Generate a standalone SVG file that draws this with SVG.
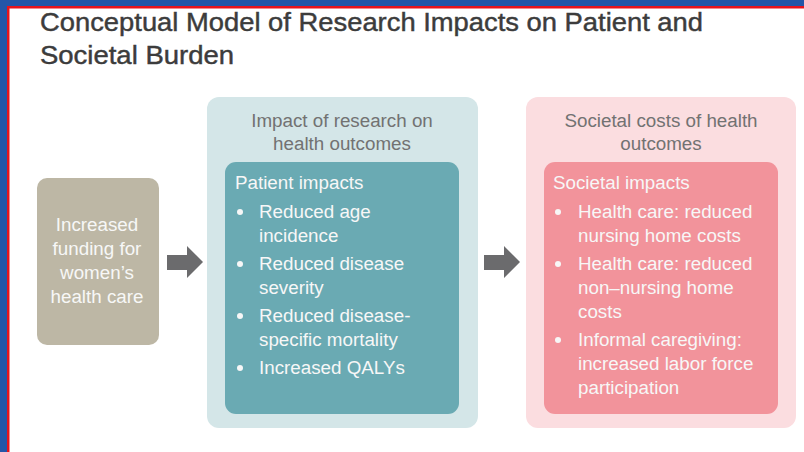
<svg xmlns="http://www.w3.org/2000/svg" width="804" height="452" viewBox="0 0 804 452">
  <style>
    text { font-family: "Liberation Sans", Arial, sans-serif; }
    .title { font-size: 26.5px; fill: #3c3c3c; stroke: #3c3c3c; stroke-width: 0.45; }
    .hdr { font-size: 18.8px; fill: #727272; text-anchor: middle; }
    .in { font-size: 18.8px; fill: #f7f7f7; }
    .mid { text-anchor: middle; }
    .bul { fill: #f7f7f7; }
    .arrow { fill: #6b6b6d; }
  </style>
  <rect x="0" y="0" width="804" height="452" fill="#ffffff"/>
  <g id="frame">
    <rect x="0" y="0" width="804" height="6" fill="#2456a8"/>
    <rect x="0" y="0" width="7" height="452" fill="#2456a8"/>
    <rect x="7" y="6" width="797" height="2.5" fill="#e8141c"/>
    <rect x="7" y="6" width="2.5" height="446" fill="#e8141c"/>
  </g>
  <g id="title">
    <text class="title" x="40" y="31" textLength="663" lengthAdjust="spacingAndGlyphs">Conceptual Model of Research Impacts on Patient and</text>
    <text class="title" x="40" y="64" textLength="194" lengthAdjust="spacingAndGlyphs">Societal Burden</text>
  </g>
  <g id="funding">
    <rect x="37" y="178" width="122" height="167" rx="10" fill="#bdb7a5"/>
    <text class="in mid" x="97" y="231">Increased</text>
    <text class="in mid" x="97" y="255">funding for</text>
    <text class="in mid" x="97" y="279">women’s</text>
    <text class="in mid" x="97" y="303">health care</text>
  </g>
  <g id="health-outcomes">
    <rect x="207" y="97" width="271" height="331" rx="12" fill="#d4e6e8"/>
    <text class="hdr" x="342" y="127">Impact of research on</text>
    <text class="hdr" x="342" y="150">health outcomes</text>
    <rect x="225" y="162" width="234" height="252" rx="11" fill="#6aaab3"/>
    <text class="in" x="235" y="189">Patient impacts</text>
    <circle class="bul" cx="240" cy="212" r="3"/>
    <text class="in" x="259" y="218">Reduced age</text>
    <text class="in" x="259" y="242">incidence</text>
    <circle class="bul" cx="240" cy="264" r="3"/>
    <text class="in" x="259" y="270">Reduced disease</text>
    <text class="in" x="259" y="294">severity</text>
    <circle class="bul" cx="240" cy="316" r="3"/>
    <text class="in" x="259" y="322">Reduced disease-</text>
    <text class="in" x="259" y="346">specific mortality</text>
    <circle class="bul" cx="240" cy="368" r="3"/>
    <text class="in" x="259" y="374">Increased QALYs</text>
  </g>
  <g id="societal-costs">
    <rect x="526" y="97" width="270" height="331" rx="12" fill="#fbdde0"/>
    <text class="hdr" x="661" y="127">Societal costs of health</text>
    <text class="hdr" x="661" y="150">outcomes</text>
    <rect x="544" y="162" width="234" height="252" rx="11" fill="#f2939b"/>
    <text class="in" x="553" y="189">Societal impacts</text>
    <circle class="bul" cx="558" cy="212" r="3"/>
    <text class="in" x="578" y="218">Health care: reduced</text>
    <text class="in" x="578" y="242">nursing home costs</text>
    <circle class="bul" cx="558" cy="264" r="3"/>
    <text class="in" x="578" y="270">Health care: reduced</text>
    <text class="in" x="578" y="294">non–nursing home</text>
    <text class="in" x="578" y="318">costs</text>
    <circle class="bul" cx="558" cy="340" r="3"/>
    <text class="in" x="578" y="346">Informal caregiving:</text>
    <text class="in" x="578" y="370">increased labor force</text>
    <text class="in" x="578" y="394">participation</text>
  </g>
  <g id="connectors">
    <polygon class="arrow" points="167,255 187,255 187,246 203,262 187,278 187,270 167,270"/>
    <polygon class="arrow" points="484,255 504,255 504,246 520,262 504,278 504,270 484,270"/>
  </g>
</svg>
